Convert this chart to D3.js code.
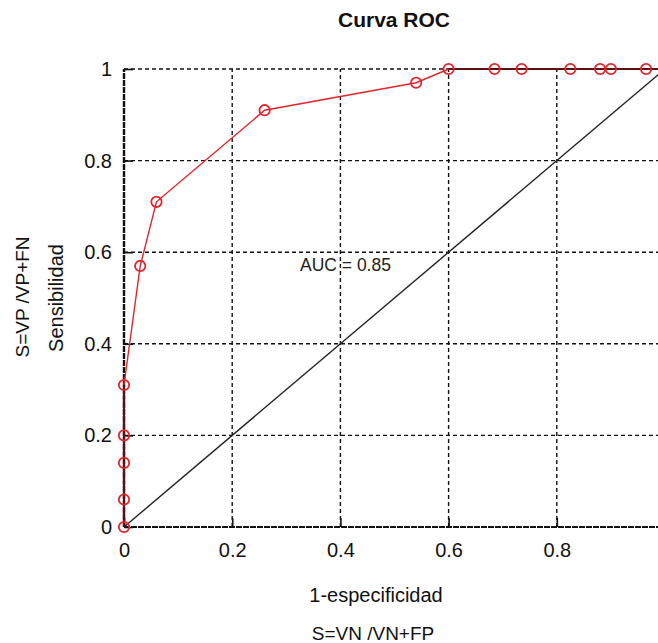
<!DOCTYPE html>
<html>
<head>
<meta charset="utf-8">
<script src="https://cdn.jsdelivr.net/npm/d3@7"></script>
<style>
  html, body { margin: 0; padding: 0; background: #fff; }
  svg { display: block; font-family: "Liberation Sans", Arial, sans-serif; }
</style>
</head>
<body>
<svg id="chart" width="658" height="643"></svg>
<script>
const fpr = [0, 0, 0, 0, 0, 0.03, 0.06, 0.26, 0.54, 0.6, 0.685, 0.735, 0.825, 0.88, 0.9, 0.965];
const tpr = [0, 0.06, 0.14, 0.2, 0.31, 0.57, 0.71, 0.91, 0.97, 1, 1, 1, 1, 1, 1, 1];
const xTicks = [0, 0.2, 0.4, 0.6, 0.8];
const yTicks = [0, 0.2, 0.4, 0.6, 0.8, 1];
const titleText = "Curva ROC";
const aucText = "AUC = 0.85";
const xLabel1 = "1-especificidad";
const xLabel2 = "S=VN /VN+FP";
const yLabel1 = "Sensibilidad";
const yLabel2 = "S=VP /VP+FN";

const svg = d3.select("#chart");
const x = d3.scaleLinear().domain([0, 1]).range([124, 665]);
const y = d3.scaleLinear().domain([0, 1]).range([527, 69]);

const dash = "4,3";
// grid
const g = svg.append("g");
g.selectAll(".vg").data(xTicks.filter(d => d > 0)).join("line")
  .attr("x1", d => x(d)).attr("x2", d => x(d)).attr("y1", y(0)).attr("y2", y(1))
  .attr("stroke", "#111").attr("stroke-width", 1.4).attr("stroke-dasharray", dash);
g.selectAll(".hg").data(yTicks.filter(d => d > 0)).join("line")
  .attr("x1", x(0)).attr("x2", 658).attr("y1", d => y(d)).attr("y2", d => y(d))
  .attr("stroke", "#111").attr("stroke-width", 1.4).attr("stroke-dasharray", dash);

// axes via d3
const xAxis = d3.axisBottom(x).tickValues(xTicks).tickSize(-9).tickPadding(12).tickFormat(d3.format("~g"));
const yAxis = d3.axisLeft(y).tickValues(yTicks).tickSize(-9).tickPadding(12).tickFormat(d3.format("~g"));
const gx = svg.append("g").attr("transform", `translate(0,${y(0)})`).call(xAxis);
const gy = svg.append("g").attr("transform", `translate(${x(0)},0)`).call(yAxis);
[gx, gy].forEach(a => {
  a.select(".domain").remove();
  a.selectAll(".tick line").attr("stroke", "#111").attr("stroke-width", 1.6);
  a.selectAll(".tick text").attr("font-size", 20).attr("fill", "#111")
    .attr("font-family", "'Liberation Sans', Arial, sans-serif");
});
gx.selectAll(".tick text").attr("dy", "0.9em");
// axis lines
svg.append("line").attr("x1", x(0)).attr("x2", 658).attr("y1", y(0)).attr("y2", y(0))
  .attr("stroke", "#111").attr("stroke-width", 2).attr("stroke-dasharray", "6,1");
svg.append("line").attr("x1", x(0)).attr("x2", x(0)).attr("y1", y(0)).attr("y2", y(1))
  .attr("stroke", "#111").attr("stroke-width", 2.4).attr("stroke-dasharray", "6,1");

// diagonal
svg.append("line").attr("x1", x(0)).attr("y1", y(0)).attr("x2", x(1)).attr("y2", y(1))
  .attr("stroke", "#222").attr("stroke-width", 1.4);

// ROC curve
const pts = fpr.map((v, i) => [v, tpr[i]]);
const line = d3.line().x(d => x(d[0])).y(d => y(d[1]));
svg.append("path").datum(pts.concat([[1, 1]])).attr("d", line)
  .attr("fill", "none").attr("stroke", "#e3242b").attr("stroke-width", 1.4);
svg.append("line").attr("x1", x(0.6)).attr("x2", 658).attr("y1", y(1)).attr("y2", y(1))
  .attr("stroke", "#5a0f10").attr("stroke-width", 2.2);
svg.append("line").attr("x1", x(0)).attr("x2", x(0)).attr("y1", y(0)).attr("y2", y(0.31))
  .attr("stroke", "#5a0f10").attr("stroke-width", 2.2);
svg.selectAll(".pt").data(pts).join("circle")
  .attr("cx", d => x(d[0])).attr("cy", d => y(d[1])).attr("r", 5.2)
  .attr("fill", "none").attr("stroke", "#e3242b").attr("stroke-width", 1.8);

// texts
svg.append("text").attr("x", 394).attr("y", 27).attr("text-anchor", "middle")
  .attr("font-size", 21).attr("font-weight", "bold").attr("fill", "#111").text(titleText);
svg.append("text").attr("x", 300).attr("y", 271).attr("font-size", 17.5)
  .attr("fill", "#222").attr("xml:space", "preserve").text(aucText);
svg.append("text").attr("x", 376).attr("y", 602).attr("text-anchor", "middle")
  .attr("font-size", 20).attr("fill", "#111").text(xLabel1);
svg.append("text").attr("x", 373).attr("y", 640).attr("text-anchor", "middle")
  .attr("font-size", 19).attr("fill", "#111").text(xLabel2);
svg.append("text").attr("transform", "translate(63,298) rotate(-90)").attr("text-anchor", "middle")
  .attr("font-size", 20).attr("fill", "#111").text(yLabel1);
svg.append("text").attr("transform", "translate(29,297) rotate(-90)").attr("text-anchor", "middle")
  .attr("font-size", 19).attr("fill", "#111").text(yLabel2);
</script>
</body>
</html>
